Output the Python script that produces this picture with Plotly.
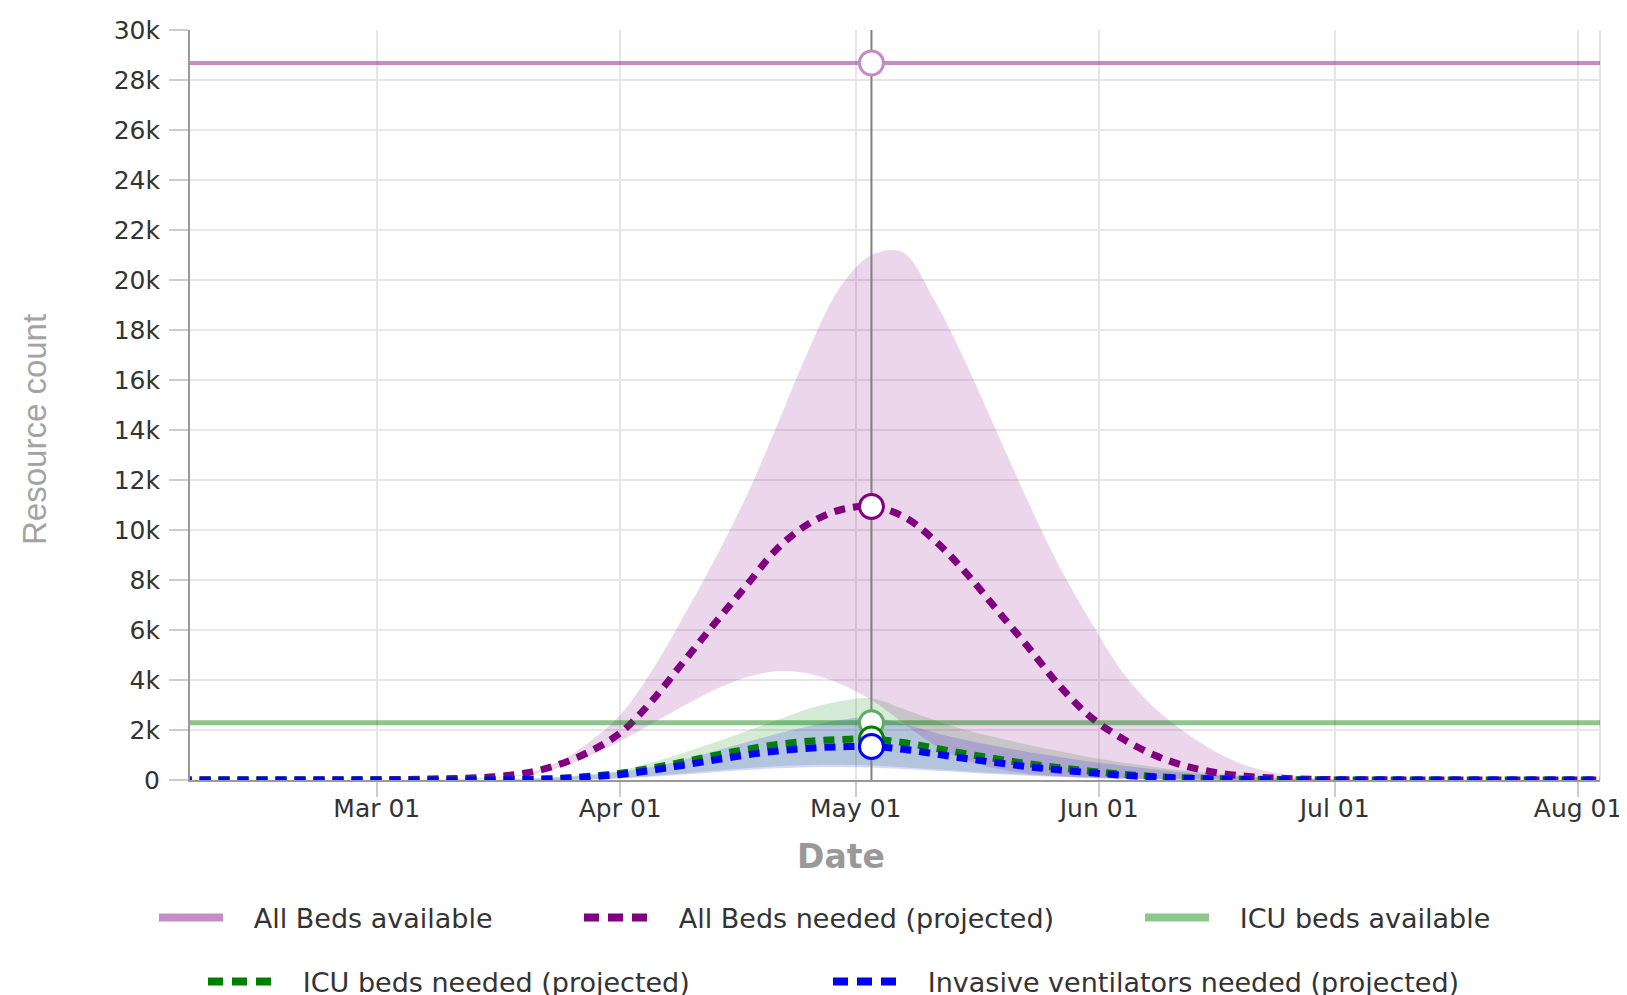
import pandas as pd
import plotly.graph_objects as go

# ---------------- data ----------------
dates = pd.date_range("2020-02-05", "2020-08-07", freq="4D")  # 47 dates, index 22 = May 03

ALL_BEDS_AVAILABLE = 28680
ICU_BEDS_AVAILABLE = 2290

all_beds_needed = [0, 0, 0, 0, 0, 0, 10, 20, 40, 70, 130, 280, 600, 1120, 1880, 3150,
                   4700, 6250, 7750, 9250, 10250, 10800, 10940, 10550, 9600, 8300, 6800,
                   5300, 3750, 2500, 1650, 1000, 560, 290, 140, 70, 30, 15, 10, 5, 0, 0,
                   0, 0, 0, 0, 0]
all_beds_upper = [0, 0, 0, 0, 0, 0, 0, 0, 20, 50, 120, 250, 700, 1500, 2600, 4350,
                  6500, 8800, 11300, 14200, 17200, 19700, 21000, 21100, 19200, 16700, 13900,
                  11100, 8500, 6300, 4300, 2900, 1900, 1100, 550, 250, 80, 30, 10, 0, 0, 0,
                  0, 0, 0, 0, 0]
all_beds_lower = [0, 0, 0, 0, 0, 0, 0, 0, 0, 0, 80, 200, 480, 950, 1550, 2250,
                  2950, 3600, 4100, 4350, 4250, 3850, 3200, 2300, 1400, 800, 450,
                  250, 150, 100, 60, 40, 20, 10, 0, 0, 0, 0, 0, 0, 0, 0,
                  0, 0, 0, 0, 0]

icu_needed = [0, 0, 0, 0, 0, 0, 0, 0, 0, 0, 5, 20, 60, 150, 270, 480,
              720, 980, 1220, 1420, 1550, 1620, 1640, 1500, 1280, 1050, 840,
              650, 490, 350, 230, 140, 80, 50, 30, 20, 10, 0, 0, 0, 0, 0,
              0, 0, 0, 0, 0]
icu_upper = [0, 0, 0, 0, 0, 0, 0, 0, 0, 0, 10, 50, 120, 220, 380, 700,
             1080, 1500, 1950, 2400, 2850, 3150, 3270, 2850, 2400, 2000, 1700,
             1400, 1150, 900, 700, 520, 370, 250, 150, 80, 40, 20, 0, 0, 0, 0,
             0, 0, 0, 0, 0]
icu_lower = [0, 0, 0, 0, 0, 0, 0, 0, 0, 0, 0, 0, 0, 30, 80, 160,
             260, 370, 470, 550, 600, 610, 580, 510, 430, 350, 270,
             200, 140, 90, 60, 35, 20, 10, 0, 0, 0, 0, 0, 0, 0, 0,
             0, 0, 0, 0, 0]

vent_needed = [0, 0, 0, 0, 0, 0, 0, 0, 0, 0, 5, 20, 50, 120, 220, 390,
               590, 800, 1000, 1160, 1270, 1330, 1340, 1230, 1050, 860, 690,
               530, 400, 290, 190, 120, 70, 40, 20, 10, 0, 0, 0, 0, 0, 0,
               0, 0, 0, 0, 0]
vent_upper = [0, 0, 0, 0, 0, 0, 0, 0, 0, 0, 10, 40, 100, 190, 330, 520,
              800, 1150, 1500, 1850, 2150, 2400, 2500, 2250, 1900, 1600, 1350,
              1120, 920, 730, 580, 430, 300, 190, 110, 60, 30, 15, 0, 0, 0, 0,
              0, 0, 0, 0, 0]
vent_lower = [0, 0, 0, 0, 0, 0, 0, 0, 0, 0, 0, 0, 0, 20, 60, 130,
              220, 310, 400, 470, 510, 520, 500, 440, 370, 300, 230,
              170, 120, 80, 50, 30, 15, 8, 0, 0, 0, 0, 0, 0, 0, 0,
              0, 0, 0, 0, 0]

HOVER_INDEX = 22
X_RANGE = ["2020-02-06 05:00", "2020-08-03 19:00"]
Y_RANGE = [0, 30000]
x_ticks = pd.date_range("2020-03-01", "2020-08-01", freq="MS")
y_ticks = list(range(0, 30001, 2000))

X_TITLE = "Date"
Y_TITLE = "Resource count"

# ---------------- figure ----------------
PURPLE = "#800080"
PURPLE_LIGHT = "rgba(128,0,128,0.45)"
GREEN = "#008000"
GREEN_LIGHT = "rgba(0,128,0,0.45)"
BLUE = "#0000ff"

fig = go.Figure()


def band(lower, upper, fillcolor):
    fig.add_trace(go.Scatter(x=dates, y=lower, mode="lines",
                             line=dict(width=0, shape="spline"),
                             showlegend=False, hoverinfo="skip"))
    fig.add_trace(go.Scatter(x=dates, y=upper, mode="lines",
                             line=dict(width=0, shape="spline"),
                             fill="tonexty", fillcolor=fillcolor,
                             showlegend=False, hoverinfo="skip"))


band(icu_lower, icu_upper, "rgba(0,128,0,0.16)")
band(vent_lower, vent_upper, "rgba(0,0,255,0.16)")
band(all_beds_lower, all_beds_upper, "rgba(128,0,128,0.16)")

hover_date = dates[HOVER_INDEX]
fig.add_trace(go.Scatter(x=[hover_date, hover_date], y=Y_RANGE, mode="lines",
                         line=dict(color="#808080", width=2),
                         showlegend=False, hoverinfo="skip"))

DASH = "11px,8px"
LEGEND_DASH = "15px,9px"
GAP = "\u00a0\u00a0\u00a0"
series = [
    ("All Beds available", [ALL_BEDS_AVAILABLE] * len(dates), PURPLE_LIGHT, 4, None, "legend"),
    ("All Beds needed (projected)", all_beds_needed, PURPLE, 7, DASH, "legend2"),
    ("ICU beds available", [ICU_BEDS_AVAILABLE] * len(dates), GREEN_LIGHT, 5, None, "legend3"),
    ("ICU beds needed (projected)", icu_needed, GREEN, 7, DASH, "legend4"),
    ("Invasive ventilators needed (projected)", vent_needed, BLUE, 7, DASH, "legend5"),
]
for name, ys, color, width, dash, lg in series:
    line = dict(color=color, width=width)
    if dash:
        line.update(dash=dash, shape="spline")
    fig.add_trace(go.Scatter(x=dates, y=ys, mode="lines", name=name, line=line,
                             showlegend=False, legendgroup=name))
    # legend entry (thicker swatch, like the reference legend)
    fig.add_trace(go.Scatter(x=[None], y=[None], mode="lines", name=GAP + name,
                             line=dict(color=color, width=8,
                                       dash=LEGEND_DASH if dash else "solid"),
                             legend=lg, legendgroup=name, hoverinfo="skip"))

marker_colors = ["#c58ac5", PURPLE, "#5fae5f", GREEN, BLUE]
for (name, ys, color, width, dash, lg), mc in zip(series, marker_colors):
    fig.add_trace(go.Scatter(x=[hover_date], y=[ys[HOVER_INDEX]], mode="markers",
                             marker=dict(symbol="circle", size=24, color="white",
                                         line=dict(color=mc, width=3)),
                             showlegend=False, hoverinfo="skip", cliponaxis=False))

W, H = 1627, 995
ML, MR, MT, MB = 182, 35, 22, 223
PW = W - ML - MR
PH = H - MT - MB


def px_x(px):
    return (px - ML) / PW


def px_y(py):
    return (H - MB - py) / PH


legend_font = dict(family="DejaVu Sans", size=27, color="#333333")
legend_common = dict(orientation="h", font=legend_font, bgcolor="rgba(0,0,0,0)",
                     itemwidth=64, xanchor="left", yanchor="middle", tracegroupgap=0)
legend_pos = {
    "legend": (146, 910),
    "legend2": (571, 910),
    "legend3": (1132, 910),
    "legend4": (195, 974),
    "legend5": (820, 974),
}
legend_layout = {}
for key, (lx, ly) in legend_pos.items():
    legend_layout[key] = dict(legend_common, x=px_x(lx), y=px_y(ly))

fig.update_layout(
    width=W, height=H,
    margin=dict(l=ML, r=MR, t=MT, b=MB, autoexpand=False),
    plot_bgcolor="white", paper_bgcolor="white",
    font=dict(family="DejaVu Sans", color="#333333"),
    showlegend=True,
    **legend_layout,
)

# plot border line on the right edge (light, like the reference frame)
fig.add_shape(type="line", xref="paper", yref="paper", x0=1, x1=1, y0=0, y1=1,
              line=dict(color="#e3e3e3", width=2), layer="below")

fig.add_annotation(text="<b>" + X_TITLE + "</b>", xref="paper", yref="paper",
                   x=px_x(833), y=px_y(848), showarrow=False,
                   font=dict(family="DejaVu Sans", size=33, color="#999999"),
                   xanchor="center", yanchor="middle")
fig.add_annotation(text=Y_TITLE, xref="paper", yref="paper",
                   x=px_x(26), y=px_y(422), showarrow=False, textangle=-90,
                   font=dict(family="Liberation Sans", size=33, color="#a3a3a3"),
                   xanchor="center", yanchor="middle")

fig.update_xaxes(
    range=X_RANGE, tickvals=x_ticks, tickformat="%b %d",
    tickfont=dict(family="DejaVu Sans", size=25, color="#333333"),
    showgrid=True, gridcolor="#e6e6e6", gridwidth=2,
    showline=True, linecolor="#999999", linewidth=2,
    ticks="outside", ticklen=15, tickcolor="#cccccc", tickwidth=2,
    ticklabelstandoff=-10,
    zeroline=False,
)
fig.update_yaxes(
    range=Y_RANGE, tickvals=y_ticks, tickformat="~s",
    tickfont=dict(family="DejaVu Sans", size=25, color="#333333"),
    showgrid=True, gridcolor="#e6e6e6", gridwidth=2,
    showline=True, linecolor="#999999", linewidth=2,
    ticks="outside", ticklen=19, tickcolor="#cccccc", tickwidth=2,
    ticklabelstandoff=4,
    zeroline=False,
)

fig.write_html("out.html")
